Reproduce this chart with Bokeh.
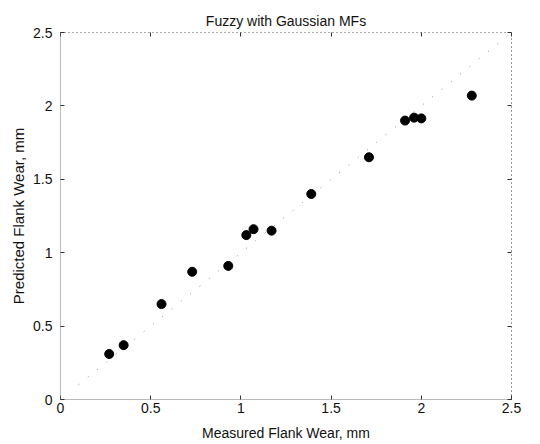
from bokeh.plotting import figure
from bokeh.models import Range1d, LinearAxis, FixedTicker
from bokeh.embed import file_html
from bokeh.resources import INLINE

# Data
measured = [0.27, 0.35, 0.56, 0.73, 0.93, 1.03, 1.07, 1.17, 1.39, 1.71, 1.91, 1.96, 2.00, 2.28]
predicted = [0.31, 0.37, 0.65, 0.87, 0.91, 1.12, 1.16, 1.15, 1.40, 1.65, 1.90, 1.92, 1.915, 2.07]
ideal_x = [0.1, 2.5]
ideal_y = [0.1, 2.5]
ticks = [0, 0.5, 1, 1.5, 2, 2.5]
tick_labels = {0: "0", 0.5: "0.5", 1: "1", 1.5: "1.5", 2: "2", 2.5: "2.5"}
title_text = "Fuzzy with Gaussian MFs"
xlabel_text = "Measured Flank Wear, mm"
ylabel_text = "Predicted Flank Wear, mm"

FONT = "Liberation Sans"

p = figure(width=540, height=444, output_backend="svg", toolbar_location=None,
           x_range=Range1d(0, 2.5), y_range=Range1d(0, 2.5),
           min_border_left=60, min_border_right=29, min_border_top=32, min_border_bottom=45,
           title=title_text)
p.title.align = "center"
p.title.text_font = FONT
p.title.text_font_size = "14px"
p.title.text_font_style = "normal"
p.title.text_color = "#111111"
p.title.standoff = 8
p.xgrid.visible = False
p.ygrid.visible = False
p.outline_line_color = None
p.background_fill_color = "white"
p.border_fill_color = "white"

for ax in (p.xaxis[0], p.yaxis[0]):
    ax.ticker = FixedTicker(ticks=ticks)
    ax.major_label_overrides = tick_labels
    ax.major_tick_in = 4
    ax.major_tick_out = 0
    ax.minor_tick_line_color = None
    ax.axis_line_color = "#777777"
    ax.axis_line_dash = "1 1"
    ax.major_tick_line_color = "#333333"
    ax.major_label_text_font = FONT
    ax.major_label_text_font_size = "14px"
    ax.major_label_text_color = "#111111"
    ax.axis_label_text_font = FONT
    ax.axis_label_text_font_size = "14px"
    ax.axis_label_text_font_style = "normal"
    ax.axis_label_text_color = "#111111"

p.xaxis[0].axis_label = xlabel_text
p.xaxis[0].major_label_standoff = 3
p.xaxis[0].axis_label_standoff = 9
p.yaxis[0].axis_label = ylabel_text
p.yaxis[0].axis_label_text_font_size = "15px"
p.yaxis[0].major_label_standoff = 8
p.yaxis[0].axis_label_standoff = 3

# Top and right box edges with inward ticks, no labels
top = LinearAxis(ticker=FixedTicker(ticks=ticks), major_label_text_color=None,
                 major_tick_in=4, major_tick_out=0, minor_tick_line_color=None,
                 axis_line_color="#555555", axis_line_dash="1 3",
                 major_tick_line_color="#333333", major_label_standoff=0)
right = LinearAxis(ticker=FixedTicker(ticks=ticks), major_label_text_color=None,
                   major_tick_in=4, major_tick_out=0, minor_tick_line_color=None,
                   axis_line_color="#333333", axis_line_dash="1 3",
                   major_tick_line_color="#333333", major_label_standoff=0)
p.add_layout(top, "above")
p.add_layout(right, "right")

# Ideal y = x reference line (faint, sparse dots as in the scan)
p.line(ideal_x, ideal_y, line_color="#888888", line_width=1, line_dash="1 11")

# Data points
p.scatter(measured, predicted, size=9, marker="circle",
          fill_color="black", line_color="black")

open("out.html", "w").write(file_html(p, INLINE))
